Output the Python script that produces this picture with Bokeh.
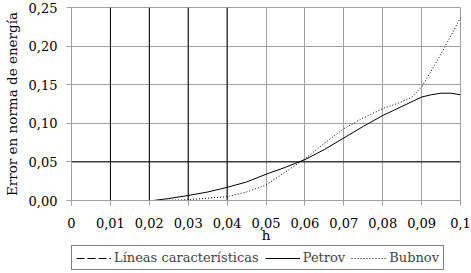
from bokeh.plotting import figure
from bokeh.layouts import column
from bokeh.models import Range1d, FixedTicker, Legend, LegendItem
from bokeh.embed import file_html
from bokeh.resources import INLINE

# ---- data ----
x_ticks = [0.0, 0.01, 0.02, 0.03, 0.04, 0.05, 0.06, 0.07, 0.08, 0.09, 0.1]
x_tick_labels = ["0", "0,01", "0,02", "0,03", "0,04", "0,05", "0,06", "0,07", "0,08", "0,09", "0,1"]
y_ticks = [0.0, 0.05, 0.10, 0.15, 0.20, 0.25]
y_tick_labels = ["0,00", "0,05", "0,10", "0,15", "0,20", "0,25"]

char_x = [0.01, 0.02, 0.03, 0.04]   # vertical characteristic lines
char_y = [0.05]                      # horizontal characteristic line

petrov_h = [0.021, 0.025, 0.03, 0.035, 0.04, 0.045, 0.05, 0.055, 0.06, 0.065, 0.07,
            0.075, 0.08, 0.085, 0.09, 0.0925, 0.095, 0.0975, 0.1]
petrov_e = [0.0, 0.0025, 0.0065, 0.011, 0.017, 0.024, 0.034, 0.043, 0.053, 0.066, 0.081,
            0.096, 0.110, 0.122, 0.134, 0.137, 0.139, 0.139, 0.137]

bubnov_h = [0.022, 0.025, 0.03, 0.035, 0.04, 0.045, 0.05, 0.055, 0.06, 0.065, 0.07,
            0.075, 0.08, 0.085, 0.0875, 0.09, 0.0925, 0.095, 0.0975, 0.1]
bubnov_e = [0.0, 0.0003, 0.001, 0.003, 0.005, 0.011, 0.020, 0.037, 0.054, 0.074, 0.093,
            0.107, 0.119, 0.128, 0.134, 0.147, 0.168, 0.190, 0.213, 0.237]

x_min, x_max = 0.0, 0.1
y_min, y_max = 0.0, 0.25

GRID = "#a0a0a0"
FONT = "DejaVu Serif"

p = figure(width=471, height=245, output_backend="svg", toolbar_location=None,
           x_range=Range1d(x_min, x_max), y_range=Range1d(y_min, y_max),
           min_border_left=70, min_border_right=11, min_border_top=7, min_border_bottom=0)

p.background_fill_color = "white"
p.border_fill_color = "white"
p.outline_line_color = GRID

for ax, ticks, labels in ((p.xaxis[0], x_ticks, x_tick_labels), (p.yaxis[0], y_ticks, y_tick_labels)):
    ax.ticker = FixedTicker(ticks=ticks)
    ax.major_label_overrides = dict(zip(ticks, labels))
    ax.axis_line_color = GRID
    ax.major_tick_line_color = GRID
    ax.major_tick_out = 5
    ax.major_tick_in = 0
    ax.minor_tick_line_color = None
    ax.major_label_text_font = FONT
    ax.major_label_text_font_size = "13px"
    ax.major_label_text_font_style = "normal"
    ax.major_label_text_color = "black"
    ax.axis_label_text_font = FONT
    ax.axis_label_text_font_style = "normal"
    ax.axis_label_text_color = "black"

p.xaxis.axis_label = "h"
p.xaxis.axis_label_text_font_size = "13.5px"
p.xaxis.major_label_standoff = 12
p.xaxis.axis_label_standoff = -4
p.yaxis.axis_label = "Error en norma de energía"
p.yaxis.axis_label_text_font_size = "13.5px"
p.yaxis.major_label_standoff = 9
p.yaxis.axis_label_standoff = 6

p.xgrid.ticker = FixedTicker(ticks=x_ticks)
p.ygrid.ticker = FixedTicker(ticks=y_ticks)
p.xgrid.grid_line_color = GRID
p.ygrid.grid_line_color = GRID

# characteristic lines (solid black in the plot)
p.segment(x0=char_x, y0=[y_min] * len(char_x), x1=char_x, y1=[y_max] * len(char_x),
          line_color="black", line_width=1)
p.segment(x0=[x_min] * len(char_y), y0=char_y, x1=[x_max] * len(char_y), y1=char_y,
          line_color="black", line_width=1)

p.line(petrov_h, petrov_e, line_color="black", line_width=1)
p.line(bubnov_h, bubnov_e, line_color="black", line_width=1, line_dash="1 2")

# legend strip (own sample renderers, kept outside its visible range)
pl = figure(width=471, height=25, output_backend="svg", toolbar_location=None,
            x_range=Range1d(0, 1), y_range=Range1d(0, 1),
            x_axis_location=None, y_axis_location=None,
            min_border_left=59, min_border_right=0, min_border_top=0, min_border_bottom=0)
pl.grid.visible = False
pl.outline_line_color = None
pl.border_fill_color = "white"
hidden = [-2.0, -1.0]
l_char = pl.line(x=hidden, y=hidden, line_color="black", line_width=1, line_dash="8 3")
l_pet = pl.line(x=hidden, y=hidden, line_color="black", line_width=1)
l_bub = pl.line(x=hidden, y=hidden, line_color="black", line_width=1, line_dash="1 2")

legend = Legend(items=[LegendItem(label="Líneas características", renderers=[l_char]),
                       LegendItem(label="Petrov", renderers=[l_pet]),
                       LegendItem(label="Bubnov", renderers=[l_bub])],
                orientation="horizontal", location="top_left", margin=0,
                padding=4, spacing=6, label_standoff=3,
                glyph_width=35, glyph_height=14, label_height=14,
                label_text_font=FONT, label_text_font_size="13px",
                label_text_font_style="normal",
                border_line_color="black", border_line_width=1,
                background_fill_color="white", background_fill_alpha=1)
pl.add_layout(legend, "center")

open("out.html", "w").write(file_html(column(p, pl, spacing=0), INLINE))
